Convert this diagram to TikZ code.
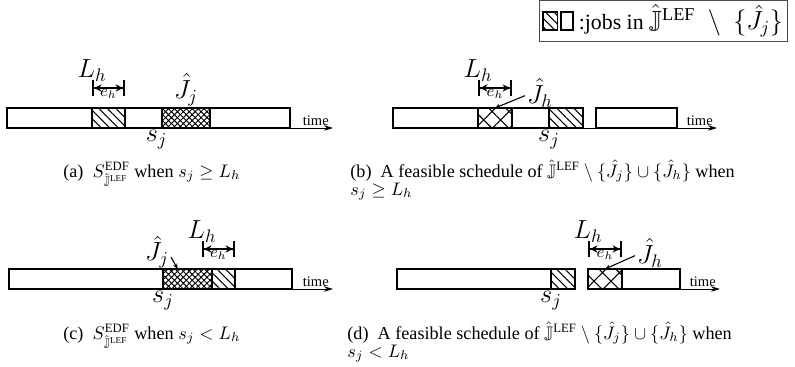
\documentclass[tikz,border=0pt]{standalone}
\usepackage{amsmath, amssymb}
\usepackage{fontspec}
\setmainfont{Liberation Serif}
\usepackage{tikz}
\usetikzlibrary{arrows.meta, positioning, calc, patterns.meta, fit}

\newcommand{\px}{0.55pt}

\begin{document}
\begin{tikzpicture}[
    x=\px, y=-\px,
    slot/.style={draw, line width=1.2pt, outer sep=0pt, inner sep=0pt,
                 minimum height=20*\px},
    hjob/.style={slot, pattern={Lines[angle=-45, distance=3.3pt, line width=0.6pt]}},
    xjob/.style={slot, pattern={Hatch[angle=45, distance=2.3pt, line width=0.5pt]}},
    bigx/.style={slot, pattern={Hatch[angle=45, distance=6.6pt, line width=0.6pt]}},
    axis/.style={-{Stealth[length=5pt, width=3pt]}, line width=0.5pt},
    span/.style={{Bar[width=8.5pt, line width=1.2pt]Stealth[length=4pt, width=4pt]}-{Stealth[length=4pt, width=4pt]Bar[width=8.5pt, line width=1.2pt]},
                 line width=1.1pt},
    ptr/.style={-{Stealth[length=3pt, width=2.5pt]}, line width=0.6pt},
    lbl/.style={font=\Large, inner sep=1pt},
    elbl/.style={font=\small, inner sep=0.5pt},
    tlbl/.style={font=\footnotesize, inner sep=0.5pt, anchor=south east},
    captxt/.style={inner sep=0pt, anchor=base west}
]
\useasboundingbox (0,0) rectangle (795,366);

% legend
\node[hjob, line width=0.8pt, minimum width=8pt, minimum height=10pt, anchor=west] (k1) at (543,21) {};
\node[slot, line width=0.8pt, minimum width=6.5pt, minimum height=10pt, right=2pt of k1] (k2) {};
\node[font=\large, inner sep=0pt, right=3pt of k2] (ktxt)
{:jobs in {\Large$\hat{\mathbb{J}}^{\text{LEF}}\ \setminus\ \{\hat{J}_j\}$}};
\node[draw=black!70, line width=0.5pt, fit=(k1)(k2)(ktxt), inner sep=2pt] (key) {};

% (a)
\node[slot, minimum width=85*\px, anchor=north west] (a1) at (7,108) {};
\node[hjob, minimum width=33*\px, right=0pt of a1] (a2) {};
\node[slot, minimum width=37*\px, right=0pt of a2] (a3) {};
\node[xjob, minimum width=48*\px, right=0pt of a3] (a4) {};
\node[slot, minimum width=80*\px, right=0pt of a4] (a5) {};
\coordinate (aT) at ($(a5.south east)+(43,0)$);
\coordinate (aL) at ($(a2.north west)+(0,-20)$);
\coordinate (aR) at ($(a2.north east)+(0,-20)$);
\node[lbl, above=2.5pt of aL] (aLh) {$L_h$};
\node[lbl, above=0pt of a4] (aJj) {$\hat{J}_j$};
\node[lbl, below=0pt of a4.south west, xshift=-3pt] (asj) {$s_j$};
\node[tlbl] (atime) at ($(aT)+(-3,-1)$) {time};
\node[captxt] (acap) at (63,177)
{(a)\enspace$S^{\text{EDF}}_{\hat{\mathbb{J}}^{\text{LEF}}}$ when $s_j \geq L_h$};

% (b)
\node[slot, minimum width=85*\px, anchor=north west] (b1) at (393,108) {};
\node[bigx, minimum width=34*\px, right=0pt of b1] (b2) {};
\node[slot, minimum width=37*\px, right=0pt of b2] (b3) {};
\node[hjob, minimum width=34*\px, right=0pt of b3] (b4) {};
\node[slot, minimum width=81*\px, right=7.15pt of b4] (b5) {};
\coordinate (bT) at ($(b5.south east)+(40,0)$);
\coordinate (bL) at ($(b2.north west)+(0,-20)$);
\coordinate (bR) at ($(b2.north east)+(0,-20)$);
\node[lbl, above=2.5pt of bL] (bLh) {$L_h$};
\node[lbl] (bJh) at ($(bR)+(28,5)$) {$\hat{J}_h$};
\node[lbl, below=0pt of b4.south west] (bsj) {$s_j$};
\node[tlbl] (btime) at ($(bT)+(-3,-1)$) {time};
\node[captxt] (bcap) at (350,177)
{(b)\enspace A feasible schedule of $\hat{\mathbb{J}}^{\text{LEF}} \setminus \{\hat{J}_j\} \cup \{\hat{J}_h\}$ when};
\node[captxt] (bcap2) at ($(bcap.base west)+(0,18)$) {$s_j \geq L_h$};

% (c)
\node[slot, minimum width=154*\px, anchor=north west] (c1) at (9,269) {};
\node[xjob, minimum width=49*\px, right=0pt of c1] (c2) {};
\node[hjob, minimum width=23*\px, right=0pt of c2] (c3) {};
\node[slot, minimum width=57*\px, right=0pt of c3] (c4) {};
\coordinate (cT) at ($(c4.south east)+(41,0)$);
\coordinate (cR) at ($(c3.north east)+(0,-20)$);
\coordinate (cL) at ($(cR)+(-33,0)$);
\coordinate (cP) at ($(c2.north west)!0.3!(c2.north east)$);
\node[lbl, above=2.5pt of cL] (cLh) {$L_h$};
\node[lbl] (cJj) at ($(c2.north west)+(-6,-17)$) {$\hat{J}_j$};
\node[lbl, below=0pt of c2.south west] (csj) {$s_j$};
\node[tlbl] (ctime) at ($(cT)+(-3,-1)$) {time};
\node[captxt] (ccap) at (63,339)
{(c)\enspace$S^{\text{EDF}}_{\hat{\mathbb{J}}^{\text{LEF}}}$ when $s_j < L_h$};

% (d)
\node[slot, minimum width=154*\px, anchor=north west] (d1) at (397,269) {};
\node[hjob, minimum width=24*\px, right=0pt of d1] (d2) {};
\node[bigx, minimum width=34*\px, right=7.15pt of d2] (d3) {};
\node[slot, minimum width=58*\px, right=0pt of d3] (d4) {};
\coordinate (dT) at ($(d4.south east)+(40,0)$);
\coordinate (dL) at ($(d3.north west)+(0,-20)$);
\coordinate (dR) at ($(d3.north east)+(0,-20)$);
\node[lbl, above=2.5pt of dL] (dLh) {$L_h$};
\node[lbl] (dJh) at ($(dR)+(28,4)$) {$\hat{J}_h$};
\node[lbl, below=0pt of d2.south west] (dsj) {$s_j$};
\node[tlbl] (dtime) at ($(dT)+(-3,-1)$) {time};
\node[captxt] (dcap) at (347,339)
{(d)\enspace A feasible schedule of $\hat{\mathbb{J}}^{\text{LEF}} \setminus \{\hat{J}_j\} \cup \{\hat{J}_h\}$ when};
\node[captxt] (dcap2) at ($(dcap.base west)+(0,18)$) {$s_j < L_h$};

\draw[axis] (a5.south east) -- (aT);
\draw[axis] (b4.south east) -- (bT);
\draw[axis] (c4.south east) -- (cT);
\draw[axis] (d4.south east) -- (dT);
\draw[span] (aL) -- node[elbl, below] (aeh) {$e_h$} (aR);
\draw[span] (bL) -- node[elbl, below] (beh) {$e_h$} (bR);
\draw[span] (cL) -- node[elbl, below] (ceh) {$e_h$} (cR);
\draw[span] (dL) -- node[elbl, below] (deh) {$e_h$} (dR);
\draw[ptr] (bJh.190) -- (b2.north);
\draw[ptr] (dJh.190) -- (d3.north);
\draw[ptr] (cJj.-20) -- (cP);
\end{tikzpicture}
\end{document}
